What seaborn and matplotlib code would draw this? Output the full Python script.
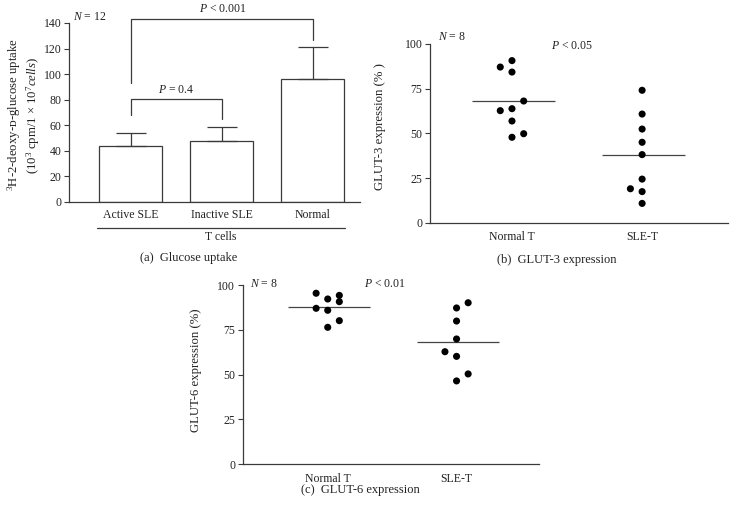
import numpy as np
import pandas as pd
import matplotlib
matplotlib.use("Agg")
import matplotlib.pyplot as plt
import matplotlib.transforms as mtransforms
import seaborn as sns

# ---------------- data ----------------
uptake_groups = ["Active SLE", "Inactive SLE", "Normal"]
uptake_mean = [44, 47.5, 96]
uptake_sem = [10, 11.5, 25]

glut3_groups = ["Normal T"] * 9 + ["SLE-T"] * 9
glut3_values = [87.1, 90.7, 84.3, 68.1, 62.7, 63.8, 56.9, 47.8, 49.8,
                74.1, 60.8, 52.4, 45.0, 38.1, 24.4, 19.0, 17.4, 10.8]
glut3_slot = [-1, 0, 0, 1, -1, 0, 0, 0, 1,
              0, 0, 0, 0, 0, 0, -1, 0, 0]

glut6_groups = ["Normal T"] * 8 + ["SLE-T"] * 8
glut6_values = [95.4, 92.2, 94.2, 90.7, 87.0, 85.9, 80.1, 76.4,
                90.1, 87.2, 79.9, 69.9, 62.8, 60.2, 50.4, 46.5]
glut6_slot = [-1, 0, 1, 1, -1, 0, 1, 0,
              1, 0, 0, 0, -1, 0, 1, 0]

expr_categories = ["Normal T", "SLE-T"]

# ---------------- style ----------------
sns.set_theme(style="ticks")
plt.rcParams["font.family"] = ["Liberation Serif", "DejaVu Serif"]
plt.rcParams["mathtext.fontset"] = "custom"
plt.rcParams["mathtext.rm"] = "Liberation Serif"
plt.rcParams["mathtext.it"] = "Liberation Serif:italic"
plt.rcParams["mathtext.bf"] = "Liberation Serif:bold"

W, H = 736, 513
fig = plt.figure(figsize=(W / 100, H / 100), dpi=100)
fig.patch.set_facecolor("white")

FS = 8.5      # ticks and annotations
FS_CAP = 9.0  # captions
FS_LAB = 9.2  # axis titles
LC = "#3a3a3a"


def px_axes(l, r, t, b):
    return fig.add_axes([l / W, 1 - b / H, (r - l) / W, (b - t) / H])


def ftext(x, y, s, **kw):
    kw.setdefault("fontsize", FS)
    kw.setdefault("color", "#222222")
    fig.text(x / W, 1 - y / H, s, **kw)


def style_axes(ax):
    sns.despine(ax=ax)
    for sp in ("left", "bottom"):
        ax.spines[sp].set_color(LC)
        ax.spines[sp].set_linewidth(0.9)
    ax.tick_params(axis="y", length=3.5, width=0.8, color=LC, pad=2,
                   labelsize=FS, labelcolor="#222222")
    ax.tick_params(axis="x", length=0, pad=6, labelsize=FS,
                   labelcolor="#222222")
    ax.set_facecolor("white")


# ---------------- (a) ----------------
axa = px_axes(69, 360, 23, 202)
dfa = pd.DataFrame({"group": uptake_groups, "mean": uptake_mean,
                    "sem": uptake_sem})
sns.barplot(data=dfa, x="group", y="mean", ax=axa, color="white",
            edgecolor=LC, linewidth=0.9, width=0.69, errorbar=None,
            saturation=1)
axa.errorbar(np.arange(len(uptake_groups)), dfa["mean"],
             yerr=[np.zeros(len(uptake_groups)), dfa["sem"]],
             fmt="none", ecolor=LC, elinewidth=0.9, capsize=11,
             capthick=0.9)
axa.set_xlim(-0.676, 2.522)
axa.set_ylim(0, 140)
axa.set_yticks(np.arange(0, 141, 20))
axa.set_xlabel("")
axa.set_ylabel("")
style_axes(axa)
axa.tick_params(axis="x", pad=5)

# brackets
axa.plot([0, 0, 2, 2], [93, 142.8, 142.8, 126.5], color=LC, lw=0.9,
         clip_on=False)
axa.plot([0, 0, 1, 1], [68, 80.5, 80.5, 65], color=LC, lw=0.9,
         clip_on=False)

trans = mtransforms.blended_transform_factory(axa.transData, axa.transAxes)
axa.plot([-0.37, 2.36], [-0.145, -0.145], color=LC, lw=0.9,
         transform=trans, clip_on=False)
ftext(221, 237, "T cells", ha="center", va="center")

ftext(73, 17, "$N$ = 12", ha="left", va="center")
ftext(223, 9, "$P$ < 0.001", ha="center", va="center")
ftext(176, 90, "$P$ = 0.4", ha="center", va="center")
ftext(14, 115, "$^{3}$H-2-deoxy-ᴅ-glucose uptake", ha="center",
      va="center", rotation=90, fontsize=FS_LAB)
ftext(33, 115, "(10$^{3}$ cpm/1 × 10$^{7}$$\\it{cells}$)", ha="center",
      va="center", rotation=90, fontsize=FS_LAB)
ftext(189, 258, "(a)  Glucose uptake", ha="center", va="center",
      fontsize=FS_CAP)


# ---------------- dot plots ----------------
def dotplot(ax, groups, values, slots, xlim):
    df = pd.DataFrame({"group": groups, "value": values, "slot": slots})
    df["x"] = df["group"].map({c: i for i, c in
                               enumerate(expr_categories)}) + df["slot"] * 0.09
    sns.scatterplot(data=df, x="x", y="value", ax=ax, color="black", s=26,
                    edgecolor="none", legend=False, zorder=3)
    means = df.groupby("group")["value"].mean()
    for i, c in enumerate(expr_categories):
        ax.hlines(means[c], i - 0.31, i + 0.33, color="#444444", lw=0.9,
                  zorder=2)
    ax.set_xlim(*xlim)
    ax.set_ylim(0, 100)
    ax.set_yticks([0, 25, 50, 75, 100])
    ax.set_xticks(range(len(expr_categories)))
    ax.set_xticklabels(expr_categories)
    ax.set_xlabel("")
    ax.set_ylabel("")
    style_axes(ax)


axb = px_axes(430, 728, 44, 222.7)
dotplot(axb, glut3_groups, glut3_values, glut3_slot, (-0.63, 1.66))
ftext(438, 37, "$N$ = 8", ha="left", va="center")
ftext(572, 46, "$P$ < 0.05", ha="center", va="center")
ftext(380, 127, "GLUT-3 expression (% )", ha="center", va="center",
      rotation=90, fontsize=FS_LAB)
ftext(557, 260, "(b)  GLUT-3 expression", ha="center", va="center",
      fontsize=FS_CAP)

axc = px_axes(242.7, 539, 285, 464.3)
dotplot(axc, glut6_groups, glut6_values, glut6_slot, (-0.66, 1.64))
ftext(250, 284, "$N$ = 8", ha="left", va="center")
ftext(385, 284, "$P$ < 0.01", ha="center", va="center")
ftext(196, 370, "GLUT-6 expression (%)", ha="center", va="center",
      rotation=90, fontsize=FS_LAB)
ftext(360, 490, "(c)  GLUT-6 expression", ha="center", va="center",
      fontsize=FS_CAP)

fig.savefig("out.png", dpi=100, facecolor="white")
